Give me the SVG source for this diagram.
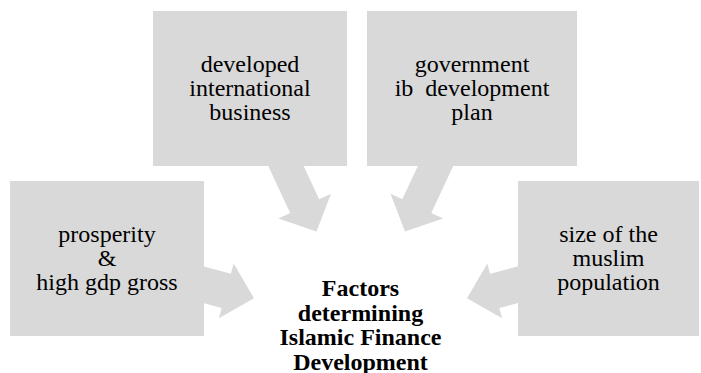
<svg xmlns="http://www.w3.org/2000/svg" width="701" height="373" viewBox="0 0 701 373">
<style>
.box{fill:#d9d9d9}
.arr{fill:#d9d9d9}
.t{font-family:"Liberation Serif","Times New Roman",serif;font-size:24px;fill:#000;text-anchor:middle}
.b{font-weight:bold}
</style>
<rect width="701" height="373" fill="#ffffff"/>
<g id="connectors">
<polygon class="arr" points="260.6,149.5 290.2,212.9 278.4,218.4 316.5,231.5 331,193.8 319.2,199.3 289.6,135.9"/>
<polygon class="arr" points="460.9,149.5 431.3,212.9 443.1,218.4 405,231.5 390.5,193.8 402.3,199.3 431.9,135.9"/>
<polygon class="arr" points="194.6,264.1 230.9,273.8 233.7,263.5 254,298.3 218.9,318.3 221.7,308 185.4,298.3"/>
<polygon class="arr" points="526.4,264.1 490.1,273.8 487.3,263.5 467,298.3 502.1,318.3 499.3,308 535.6,298.3"/>
</g>
<g id="node-international-business">
<rect class="box" x="153" y="11" width="194" height="155"/>
<text class="t" x="250" y="72">developed</text>
<text class="t" x="250" y="96">international</text>
<text class="t" x="250" y="120">business</text>
</g>
<g id="node-government-plan">
<rect class="box" x="367" y="11" width="210" height="155"/>
<text class="t" x="472" y="72">government</text>
<text class="t" x="472" y="96" xml:space="preserve" style="white-space:pre">ib  development</text>
<text class="t" x="472" y="120">plan</text>
</g>
<g id="node-prosperity">
<rect class="box" x="10" y="181" width="194" height="155"/>
<text class="t" x="107" y="242">prosperity</text>
<text class="t" x="107" y="266">&amp;</text>
<text class="t" x="107" y="290">high gdp gross</text>
</g>
<g id="node-muslim-population">
<rect class="box" x="518" y="181" width="181" height="155"/>
<text class="t" x="608.5" y="242">size of the</text>
<text class="t" x="608.5" y="266">muslim</text>
<text class="t" x="608.5" y="290">population</text>
</g>
<g id="node-center">
<text class="t b" x="360.5" y="296">Factors</text>
<text class="t b" x="360.5" y="320.7">determining</text>
<text class="t b" x="360.5" y="345.3">Islamic Finance</text>
<text class="t b" x="360.5" y="370">Development</text>
</g>
</svg>
